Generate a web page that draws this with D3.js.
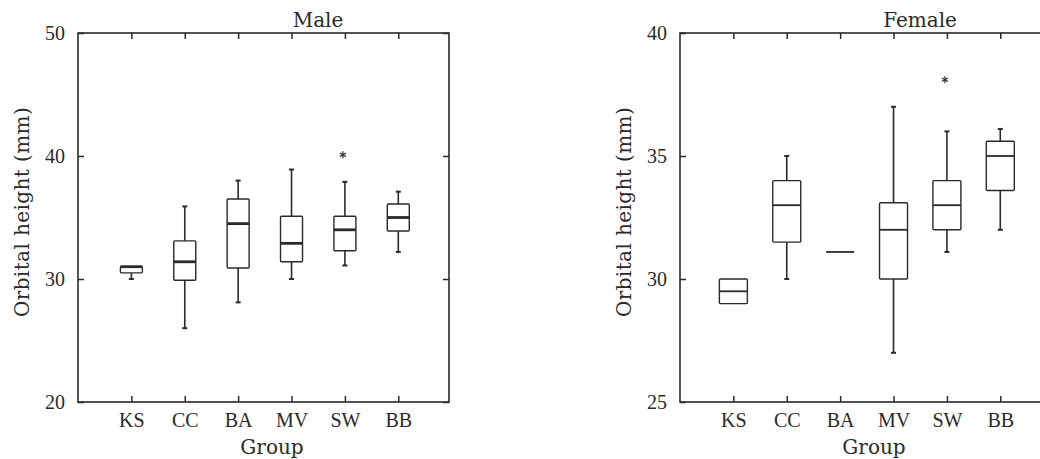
<!DOCTYPE html>
<html>
<head>
<meta charset="utf-8">
<script src="https://cdn.jsdelivr.net/npm/d3@7"></script>
<style>
  body { margin: 0; background: #fff; }
  svg { display: block; }
  .tick text { font-family: "Liberation Serif", serif; font-size: 20px; fill: #2a2a2a; }
  .lbl { font-family: "DejaVu Serif", serif; font-size: 20px; fill: #2a2a2a; }
</style>
</head>
<body>
<div id="chart"></div>
<script>
const groups = ["KS", "CC", "BA", "MV", "SW", "BB"];

// Male
const maleMin    = [30.0, 26.0, 28.1, 30.0, 31.1, 32.2];
const maleQ1     = [30.5, 29.9, 30.9, 31.4, 32.3, 33.9];
const maleMedian = [31.0, 31.4, 34.5, 32.9, 34.0, 35.0];
const maleQ3     = [31.0, 33.1, 36.5, 35.1, 35.1, 36.1];
const maleMax    = [31.0, 35.9, 38.0, 38.9, 37.9, 37.1];
const maleOutliers = [{ g: "SW", v: 40.1 }];

// Female
const femaleMin    = [29.0, 30.0, 31.1, 27.0, 31.1, 32.0];
const femaleQ1     = [29.0, 31.5, 31.1, 30.0, 32.0, 33.6];
const femaleMedian = [29.5, 33.0, 31.1, 32.0, 33.0, 35.0];
const femaleQ3     = [30.0, 34.0, 31.1, 33.1, 34.0, 35.6];
const femaleMax    = [30.0, 35.0, 31.1, 37.0, 36.0, 36.1];
const femaleOutliers = [{ g: "SW", v: 38.1 }];

const W = 1040, H = 459;
const ink = "#2a2a2a";

const svg = d3.select("#chart").append("svg")
  .attr("width", W).attr("height", H)
  .style("background", "#fff");

function drawPanel(p) {
  const x = d3.scaleLinear().domain([0, 6.95]).range([p.left, p.left + 371]);
  const y = d3.scaleLinear().domain(p.yDomain).range([402, 33]);
  const pos = g => x(groups.indexOf(g) + 1);
  const g = svg.append("g");

  // frame
  g.append("rect")
    .attr("x", x.range()[0]).attr("y", y.range()[1])
    .attr("width", x.range()[1] - x.range()[0])
    .attr("height", y.range()[0] - y.range()[1])
    .attr("fill", "none").attr("stroke", ink).attr("stroke-width", 1.6);

  // axes, ticks pointing inward
  const left = g.append("g").attr("transform", `translate(${x.range()[0]},0)`)
    .call(d3.axisLeft(y).tickValues(p.yTicks).tickSize(-6).tickPadding(13));
  const right = g.append("g").attr("transform", `translate(${x.range()[1]},0)`)
    .call(d3.axisRight(y).tickValues(p.yTicks).tickSize(-6).tickFormat(""));
  const bottom = g.append("g").attr("transform", `translate(0,${y.range()[0]})`)
    .call(d3.axisBottom(x).tickValues(d3.range(1, 7)).tickSize(-6).tickPadding(11)
      .tickFormat(d => groups[d - 1]));
  const top = g.append("g").attr("transform", `translate(0,${y.range()[1]})`)
    .call(d3.axisTop(x).tickValues(d3.range(1, 7)).tickSize(-6).tickFormat(""));
  [left, right, bottom, top].forEach(a => {
    a.select(".domain").remove();
    a.selectAll("line").attr("stroke", ink).attr("stroke-width", 1.5);
  });
  bottom.selectAll("text").attr("class", "lbl");

  // boxes
  const data = groups.map((name, i) => ({
    name, min: p.min[i], q1: p.q1[i], med: p.med[i], q3: p.q3[i], max: p.max[i]
  }));
  const bw = p.boxWidth;
  const cap = 2.5;
  const boxes = g.selectAll(".box").data(data).join("g").attr("class", "box");

  boxes.append("line")
    .attr("x1", d => pos(d.name)).attr("x2", d => pos(d.name))
    .attr("y1", d => y(d.q3)).attr("y2", d => y(d.max))
    .attr("stroke", ink).attr("stroke-width", 1.6);
  boxes.append("line")
    .attr("x1", d => pos(d.name)).attr("x2", d => pos(d.name))
    .attr("y1", d => y(d.q1)).attr("y2", d => y(d.min))
    .attr("stroke", ink).attr("stroke-width", 1.6);
  boxes.filter(d => d.max > d.q3).append("line")
    .attr("x1", d => pos(d.name) - cap).attr("x2", d => pos(d.name) + cap)
    .attr("y1", d => y(d.max)).attr("y2", d => y(d.max))
    .attr("stroke", ink).attr("stroke-width", 2);
  boxes.filter(d => d.min < d.q1).append("line")
    .attr("x1", d => pos(d.name) - cap).attr("x2", d => pos(d.name) + cap)
    .attr("y1", d => y(d.min)).attr("y2", d => y(d.min))
    .attr("stroke", ink).attr("stroke-width", 2);

  boxes.filter(d => d.q3 > d.q1).append("rect")
    .attr("x", d => pos(d.name) - bw / 2).attr("width", bw)
    .attr("y", d => y(d.q3)).attr("height", d => y(d.q1) - y(d.q3))
    .attr("fill", "#fff").attr("stroke", ink).attr("stroke-width", 1.4)
    .attr("rx", 1);

  boxes.append("line")
    .attr("x1", d => pos(d.name) - bw / 2).attr("x2", d => pos(d.name) + bw / 2)
    .attr("y1", d => y(d.med)).attr("y2", d => y(d.med))
    .attr("stroke", ink).attr("stroke-width", p.medWidth);

  // outliers as asterisks
  p.outliers.forEach(o => {
    const cx = pos(o.g) - 2, cy = y(o.v), r = 3.5;
    [0, 60, 120].forEach(a => {
      const t = a * Math.PI / 180;
      g.append("line")
        .attr("x1", cx - r * Math.sin(t)).attr("y1", cy - r * Math.cos(t))
        .attr("x2", cx + r * Math.sin(t)).attr("y2", cy + r * Math.cos(t))
        .attr("stroke", ink).attr("stroke-width", 1.2);
    });
  });

  // labels
  g.append("text").attr("class", "lbl")
    .attr("x", p.left + 240).attr("y", 27)
    .attr("text-anchor", "middle").text(p.title);
  g.append("text").attr("class", "lbl")
    .attr("x", p.left + 194).attr("y", 454)
    .attr("text-anchor", "middle").text("Group");
  g.append("text").attr("class", "lbl")
    .attr("transform", `translate(${p.left - 49},212) rotate(-90)`)
    .attr("text-anchor", "middle").attr("letter-spacing", 0.4)
    .text("Orbital height (mm)");
}

drawPanel({
  left: 78, title: "Male", yDomain: [20, 50], yTicks: [20, 30, 40, 50],
  min: maleMin, q1: maleQ1, med: maleMedian, q3: maleQ3, max: maleMax,
  outliers: maleOutliers, boxWidth: 22, medWidth: 2.8
});

drawPanel({
  left: 680, title: "Female", yDomain: [25, 40], yTicks: [25, 30, 35, 40],
  min: femaleMin, q1: femaleQ1, med: femaleMedian, q3: femaleQ3, max: femaleMax,
  outliers: femaleOutliers, boxWidth: 28, medWidth: 1.8
});
</script>
</body>
</html>
